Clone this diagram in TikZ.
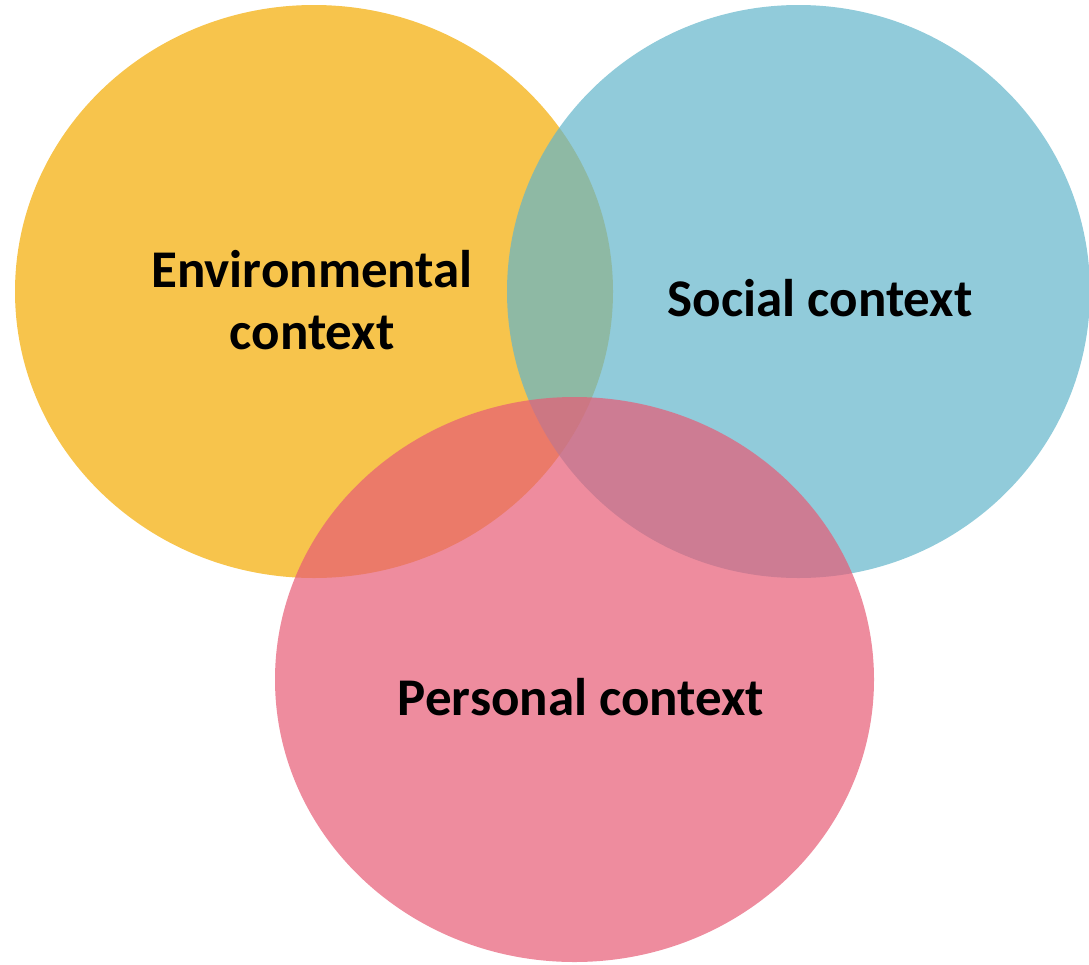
\documentclass[tikz,border=0pt]{standalone}
\usepackage{fontspec}
\setmainfont{Carlito}
\usepackage{tikz}

\definecolor{envyellow}{RGB}{243,171,0}
\definecolor{socblue}{RGB}{98,181,202}
\definecolor{perspink}{RGB}{231,91,117}

\tikzset{
  ctxset/.style={fill opacity=0.7},
  ctxlabel/.style={font=\fontsize{53}{62}\selectfont\bfseries, align=center, text=black}
}

\begin{document}
\begin{tikzpicture}[x=1pt,y=-1pt]
			\useasboundingbox (0,0) rectangle (1089,964);
			% the three contexts
			\fill[envyellow,ctxset] (314,291.5) ellipse [x radius=299, y radius=286.5];
			\fill[socblue,ctxset] (798.5,291.5) ellipse [x radius=291.5, y radius=286.5];
			\fill[perspink,ctxset] (574.5,679.5) ellipse [x radius=299.5, y radius=282.5];

			\node[ctxlabel] (env) at (312,300) {Environmental\\context};
			\node[ctxlabel] (soc) at (820,298) {Social context};
			\node[ctxlabel] (pers) at (581,697) {Personal context};
		\end{tikzpicture}
\end{document}
